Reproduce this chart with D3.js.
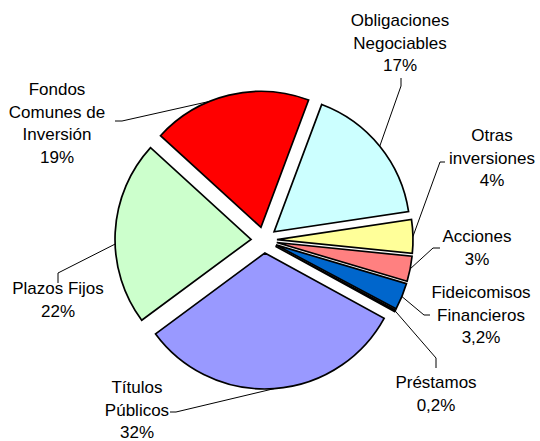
<!DOCTYPE html>
<html>
<head>
<meta charset="utf-8">
<script src="https://cdn.jsdelivr.net/npm/d3@7"></script>
<style>
  body { margin: 0; background: #fff; }
  text { font-family: "Liberation Sans", Arial, sans-serif; font-size: 17px; fill: #000; }
</style>
</head>
<body>
<script>
// Portfolio composition by instrument
const categories = [
  "Obligaciones Negociables", "Otras inversiones", "Acciones",
  "Fideicomisos Financieros", "Préstamos", "Títulos Públicos",
  "Plazos Fijos", "Fondos Comunes de Inversión"
];
const shares = [17, 4, 3, 3.2, 0.2, 32, 22, 19];
const shareLabels = ["17%", "4%", "3%", "3,2%", "0,2%", "32%", "22%", "19%"];
const nameLines = [
  ["Obligaciones", "Negociables"], ["Otras", "inversiones"], ["Acciones"],
  ["Fideicomisos", "Financieros"], ["Préstamos"], ["Títulos", "Públicos"],
  ["Plazos Fijos"], ["Fondos", "Comunes de", "Inversión"]
];
const sliceColors = ["#CCFFFF", "#FFFF99", "#FF8080", "#0066CC", "#000000", "#9999FF", "#CCFFCC", "#FF0000"];

// Label placement: text centre x, first baseline y, leader elbow points,
// and optional attach angle (degrees, clockwise from 12 o'clock) on the rim.
const labelLayout = [
  { x: 400, y: 26,  leader: [[401, 78], [401, 86]] },
  { x: 492, y: 141, leader: [[445, 162], [440, 162]] },
  { x: 477, y: 242, leader: [[440, 248], [433, 248]] },
  { x: 481, y: 298, leader: [[430, 315], [424, 315]] },
  { x: 436, y: 388, leader: [[436, 368], [436, 358]] },
  { x: 137, y: 393, leader: [[170, 412], [176, 412]] },
  { x: 58,  y: 294, leader: [[58, 283], [58, 273]], attach: 268 },
  { x: 57,  y: 95,  leader: [[115, 121], [122, 121]], attach: 338 }
];

const W = 540, H = 441;
const cx = 264, cy = 240;
const radius = 136;
const explode = 13;
const lineStep = 22.5;

const data = categories.map((c, i) => ({ name: c, value: shares[i], i }));

const svg = d3.select("body").append("svg")
  .attr("width", W).attr("height", H);

const pie = d3.pie()
  .sort(null)
  .value(d => d.value)
  .startAngle(20.5 * Math.PI / 180)
  .endAngle(20.5 * Math.PI / 180 + 2 * Math.PI);

const arcs = pie(data);
const arc = d3.arc().innerRadius(0).outerRadius(radius);

function offset(a) {
  const m = (a.startAngle + a.endAngle) / 2;
  return [explode * Math.sin(m), -explode * Math.cos(m)];
}

const g = svg.append("g").attr("transform", `translate(${cx},${cy})`);

g.selectAll("path.slice")
  .data(arcs)
  .join("path")
  .attr("class", "slice")
  .attr("transform", d => { const o = offset(d); return `translate(${o[0]},${o[1]})`; })
  .attr("d", arc)
  .attr("fill", d => sliceColors[d.data.i])
  .attr("stroke", "#000")
  .attr("stroke-width", 1.7)
  .attr("stroke-linejoin", "miter");

// Leader lines
arcs.forEach(d => {
  const lay = labelLayout[d.data.i];
  const o = offset(d);
  const ang = lay.attach != null ? lay.attach * Math.PI / 180 : (d.startAngle + d.endAngle) / 2;
  const rim = [cx + o[0] + radius * Math.sin(ang), cy + o[1] - radius * Math.cos(ang)];
  const pts = [...lay.leader, rim];
  svg.append("path")
    .attr("d", d3.line()(pts))
    .attr("fill", "none")
    .attr("stroke", "#000")
    .attr("stroke-width", 1);
});

// Labels
arcs.forEach(d => {
  const lay = labelLayout[d.data.i];
  const lines = [...nameLines[d.data.i], shareLabels[d.data.i]];
  const t = svg.append("text").attr("text-anchor", "middle");
  lines.forEach((ln, k) => {
    t.append("tspan").attr("x", lay.x).attr("y", lay.y + k * lineStep).text(ln);
  });
});
</script>
</body>
</html>
